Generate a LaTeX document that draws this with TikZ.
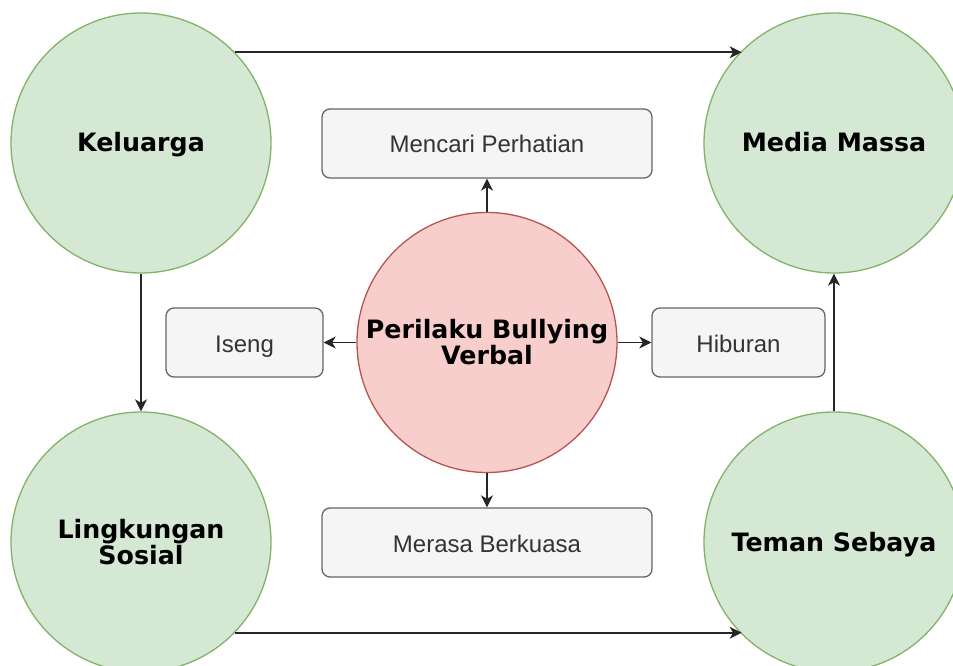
\documentclass[tikz,border=0pt]{standalone}
\usepackage{fontspec}
\setmainfont{DejaVu Sans}
\newfontfamily\boxfont{Liberation Sans}
\usetikzlibrary{arrows.meta}
\definecolor{gfill}{HTML}{D5E8D4}
\definecolor{gline}{HTML}{82B366}
\definecolor{rfill}{HTML}{F8CECC}
\definecolor{rline}{HTML}{B85450}
\definecolor{bfill}{HTML}{F5F5F5}
\definecolor{bline}{HTML}{666666}
\definecolor{btext}{HTML}{333333}
\begin{document}
\begin{tikzpicture}[x=1pt,y=-1pt,
  bigcirc/.style={circle,minimum size=260pt,inner sep=0pt,align=center,line width=1.3pt,
    font=\bfseries\fontsize{25.3}{26}\selectfont},
  oneline/.style={text height=18pt,text depth=0pt},
  factor/.style={bigcirc,draw=gline,fill=gfill},
  core/.style={bigcirc,draw=rline,fill=rfill},
  reason/.style={draw=bline,fill=bfill,rounded corners=8pt,line width=1.3pt,minimum height=69pt,
    inner sep=0pt,text=btext,text height=19pt,text depth=0pt,font=\boxfont\fontsize{24}{26}\selectfont},
  conn/.style={line width=1.5pt,draw=black!85,-{Stealth[length=12pt,width=12pt,inset=3.5pt]}}]
\useasboundingbox (0,0) rectangle (953,666);
\clip (0,0) rectangle (953,666);
\fill[white] (0,0) rectangle (953,666);
\node[factor,oneline] (K) at (141,143) {Keluarga};
\node[factor,oneline] (M) at (834,143) {Media Massa};
\node[factor] (L) at (141,542) {Lingkungan\\Sosial};
\node[factor,oneline] (T) at (834,542) {Teman Sebaya};
\node[core] (C) at (487,342.5) {Perilaku Bullying\\Verbal};
\node[reason,minimum width=330pt] (MP) at (487,143.5) {Mencari Perhatian};
\node[reason,minimum width=157pt] (I) at (244.5,342.5) {Iseng};
\node[reason,minimum width=173pt] (H) at (738.5,342.5) {Hiburan};
\node[reason,minimum width=330pt] (MB) at (487,542.5) {Merasa Berkuasa};
\draw[conn] (K.44.4) -- (M.135.6 |- K.44.4);
\draw[conn] (L.-44.6) -- (T.-135.4 |- L.-44.6);
\draw[conn] (K.south) -- (L.north);
\draw[conn] (T.north) -- (M.south);
\draw[conn] (C) -- (MP);
\draw[conn] (C) -- (I);
\draw[conn] (C) -- (H);
\draw[conn] (C) -- (MB);
\end{tikzpicture}
\end{document}
